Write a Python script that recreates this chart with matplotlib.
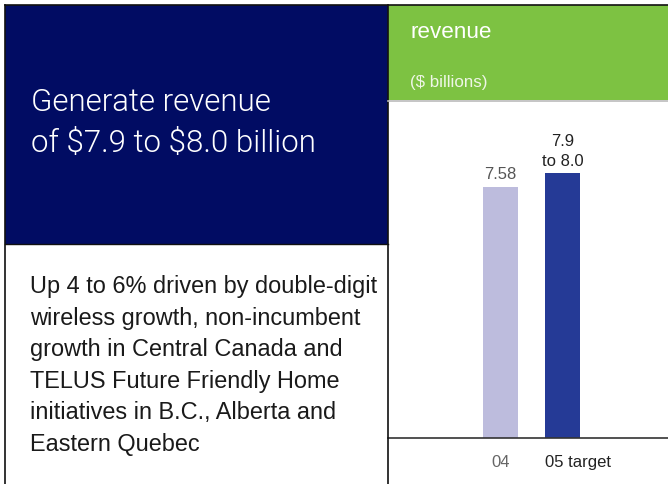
import matplotlib
matplotlib.use("Agg")
import matplotlib.pyplot as plt
from matplotlib.patches import Rectangle
from matplotlib.lines import Line2D
import matplotlib.transforms as mtransforms

# ---- data ----
categories = ["04", "05 target"]
values = [7.58, 8.0]
value_labels = ["7.58", "7.9\nto 8.0"]
bar_colors = ["#bdbcdd", "#253a96"]
label_colors = ["#555555", "#222222"]
title_lines = "Generate revenue\nof $7.9 to $8.0 billion"
body_text = ("Up 4 to 6% driven by double-digit\nwireless growth, non-incumbent\n"
             "growth in Central Canada and\nTELUS Future Friendly Home\n"
             "initiatives in B.C., Alberta and\nEastern Quebec")
panel_title = "revenue"
panel_unit = "($ billions)"

W, H = 668, 485
fig = plt.figure(figsize=(W / 100, H / 100), dpi=100)
fig.patch.set_facecolor("white")
FONT = "Liberation Sans"

def fx(px):
    return px / W

def fy(py):
    return 1 - py / H

# navy block
fig.patches.append(Rectangle((fx(5), fy(245)), fx(388) - fx(5), fy(6) - fy(245),
                             transform=fig.transFigure, facecolor="#010c63",
                             edgecolor="none", zorder=0))
# green block
fig.patches.append(Rectangle((fx(388), fy(101)), fx(668) - fx(388), fy(6) - fy(101),
                             transform=fig.transFigure, facecolor="#7dc242",
                             edgecolor="none", zorder=0))
# lines / borders
lines = [
    ((5, 5), (6, 485), "#111111", 1.2),
    ((5, 668), (6, 6), "#111111", 1.2),
    ((5, 388), (245, 245), "#111111", 1.0),
    ((388, 388), (6, 485), "#111111", 1.2),
    ((388, 668), (101.5, 101.5), "#bbbbbb", 1.2),
]
for xs, ys, c, lw in lines:
    fig.lines.append(Line2D([fx(x) for x in xs], [fy(y) for y in ys],
                            transform=fig.transFigure, color=c, lw=lw, zorder=3))

# left texts
fig.text(fx(31), fy(123), title_lines, color="white", fontsize=22.5,
         fontfamily="Roboto", fontweight=300, ha="left", va="center",
         linespacing=1.5, parse_math=False)
fig.text(fx(30), fy(365.5), body_text, color="#1a1a1a", fontsize=16.9,
         fontfamily=FONT, ha="left", va="center", linespacing=1.47,
         parse_math=False)

# green panel texts
fig.text(fx(410), fy(32), panel_title, color="white", fontsize=16.2,
         fontfamily=FONT, ha="left", va="center")
fig.text(fx(410), fy(82), panel_unit, color="#eef6e6", fontsize=12.2,
         fontfamily=FONT, ha="left", va="center", parse_math=False)

# bar chart axes
ax_left, ax_right = 388, 668
ax_bottom, ax_top = 439, 102
ax = fig.add_axes([fx(ax_left), fy(ax_bottom), fx(ax_right) - fx(ax_left),
                   fy(ax_top) - fy(ax_bottom)])
ax.set_facecolor("none")
px_per_unit_x = 62.0
x0 = -(500.5 - ax_left) / px_per_unit_x
ax.set_xlim(x0, x0 + (ax_right - ax_left) / px_per_unit_x)
px_per_unit_y = 251 / 7.58
ax.set_ylim(0, (ax_bottom - ax_top) / px_per_unit_y)
bw = 35 / px_per_unit_x
xs = list(range(len(values)))
ax.bar(xs, values, width=bw, color=bar_colors, zorder=2)
for i, (v, lab) in enumerate(zip(values, value_labels)):
    ax.annotate(lab, (xs[i], v), xytext=(0, 4), textcoords="offset points",
                ha="center", va="bottom", fontsize=12, fontfamily=FONT,
                color=label_colors[i], linespacing=1.35)
for sp in ["top", "right", "left"]:
    ax.spines[sp].set_visible(False)
ax.spines["bottom"].set_color("#333333")
ax.spines["bottom"].set_linewidth(1.2)
ax.set_yticks([])
ax.set_xticks([])
trans = mtransforms.blended_transform_factory(ax.transData, ax.transAxes)
for i, cat in enumerate(categories):
    if i == 0:
        ax.text(xs[i], -0.07, cat, transform=trans, ha="center", va="center",
                fontsize=12, fontfamily=FONT, color="#666666")
    else:
        ax.text(xs[i] - bw / 2, -0.07, cat, transform=trans, ha="left",
                va="center", fontsize=12, fontfamily=FONT, color="#222222")

fig.savefig("out.png", dpi=100)
